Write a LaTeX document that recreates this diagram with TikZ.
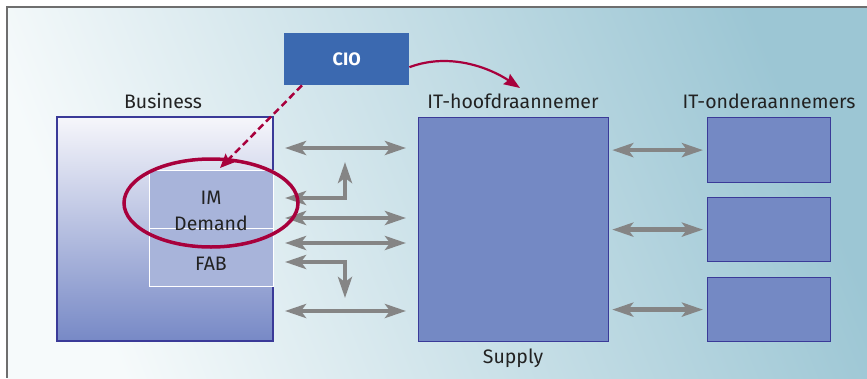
\documentclass[tikz,border=0pt]{standalone}
\usepackage{fontspec}
\setmainfont{Fira Sans}
\usetikzlibrary{arrows.meta,shapes.geometric}
\definecolor{bgA}{HTML}{F6FAFB}
\definecolor{bgB}{HTML}{9CC6D4}
\definecolor{frameC}{HTML}{6E6E6E}
\definecolor{cioC}{HTML}{3B69B0}
\definecolor{boxC}{HTML}{7489C4}
\definecolor{edgeC}{HTML}{3A3A98}
\definecolor{subC}{HTML}{A8B4DA}
\definecolor{busTop}{HTML}{F6F6FB}
\definecolor{busBot}{HTML}{7789C6}
\definecolor{redC}{HTML}{A8003C}
\definecolor{arrC}{HTML}{858585}
\definecolor{txtC}{HTML}{222222}
\tikzset{
  blockbox/.style={draw=edgeC, line width=1.2pt, fill=boxC, inner sep=0pt, anchor=north west},
  label/.style={text=txtC, font=\fontsize{19.5}{23}\selectfont, inner sep=0pt},
  subbox/.style={draw=white, line width=1pt, fill=subC},
  flow/.style={draw=arrC, line width=4.5pt, line join=miter,
    {Stealth[length=21pt,width=14pt,inset=5pt]}-{Stealth[length=21pt,width=14pt,inset=5pt]}},
}
\begin{document}
\begin{tikzpicture}[x=1pt,y=-1pt]
\useasboundingbox (0,0) rectangle (867,378);
% background panel and frame
\fill[white] (0,0) rectangle (867,378);
\shade[top color=bgB, bottom color=bgA, shading angle=-68] (7,7) rectangle (867,378);
\draw[frameC, line width=1.5pt] (7,378) -- (7,7) -- (867,7);

% Business column
\node[label] (busLbl) at (163,101) {Business};
\shade[top color=busTop, bottom color=busBot, draw=edgeC, line width=1.2pt] (57,117) rectangle (273,341);
\draw[subbox] (149,170) rectangle (273,228);
\draw[subbox] (149,228) rectangle (273,286);
\node[label, align=center, font=\fontsize{19.5}{26}\selectfont] (im) at (211,211) {IM\\Demand};
\node[label] (fab) at (211,264) {FAB};

% main contractor
\node[label] (hoofdLbl) at (513,101) {IT-hoofdraannemer};
\node[blockbox, minimum width=190pt, minimum height=224pt] (hoofd) at (418,117) {};
\node[label] (supply) at (513,358) {Supply};

% subcontractors
\node[label] (onderLbl) at (769,101) {IT-onderaannemers};
\node[blockbox, minimum width=123pt, minimum height=65pt] (sub1) at (707,117) {};
\node[blockbox, minimum width=123pt, minimum height=64pt] (sub2) at (707,197) {};
\node[blockbox, minimum width=123pt, minimum height=64pt] (sub3) at (707,277) {};

% CIO
\node[fill=cioC, minimum width=125pt, minimum height=52pt, inner sep=0pt, anchor=north west,
  text=white, font=\fontsize{18}{20}\selectfont\bfseries] (cio) at (284,33) {CIO};

% flows between business and main contractor
\draw[flow] (285,148) -- (406,148);
\draw[flow] (285,198) -| (345,162);
\draw[flow] (285,218) -- (406,218);
\draw[flow] (285,243) -- (406,243);
\draw[flow] (285,262) -| (345,298);
\draw[flow] (285,311) -- (406,311);

% flows between main contractor and subcontractors
\draw[flow] ([xshift=3pt]hoofd.east |- sub1.west) -- ([xshift=-4pt]sub1.west);
\draw[flow] ([xshift=3pt]hoofd.east |- sub2.west) -- ([xshift=-4pt]sub2.west);
\draw[flow] ([xshift=3pt]hoofd.east |- sub3.west) -- ([xshift=-4pt]sub3.west);

% demand ellipse and CIO links
\node[draw=redC, line width=3.5pt, ellipse, minimum width=174pt, minimum height=88pt, inner sep=0pt] (ring) at (211,203) {};
\coordinate (ringTop) at (220,168);
\draw[redC, line width=2.5pt, dash pattern=on 7pt off 4pt, -{Stealth[length=14pt,width=12pt,inset=2pt]}]
  ([xshift=18pt]cio.south west) -- (ringTop);
\coordinate (hoofdTop) at (520,88);
\draw[redC, line width=2.2pt, -{Stealth[length=16pt,width=12pt,inset=2pt]}]
  ([yshift=-8pt]cio.east) .. controls (450,52) and (490,68) .. (hoofdTop);
\end{tikzpicture}
\end{document}
